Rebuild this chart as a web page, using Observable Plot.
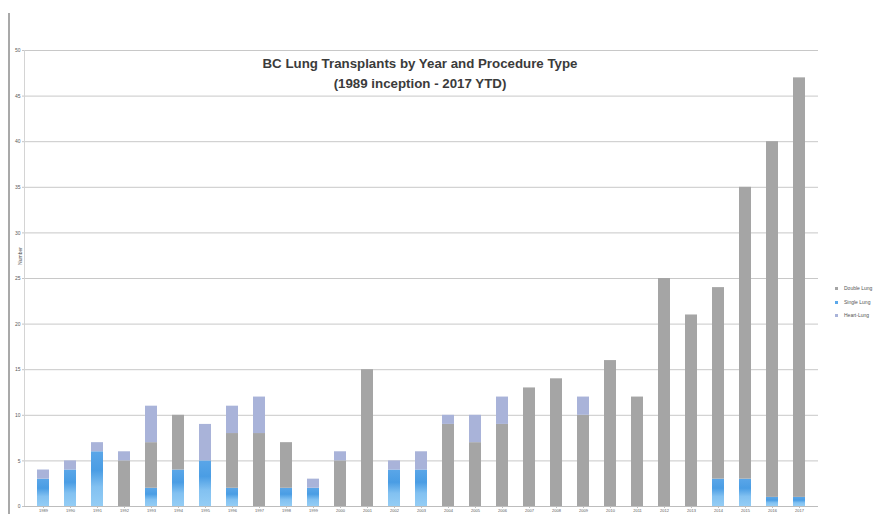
<!DOCTYPE html>
<html>
<head>
<meta charset="utf-8">
<script src="https://cdn.jsdelivr.net/npm/d3@7"></script>
<script src="https://cdn.jsdelivr.net/npm/@observablehq/plot@0.6"></script>
<style>
  body { margin: 0; background: #fff; font-family: "Liberation Sans", Arial, sans-serif; }
  #wrap { position: relative; width: 885px; height: 514px; overflow: hidden; background: #fff; }
  #wrap svg { position: absolute; left: 0; top: 0; }
  #edge { position: absolute; left: 8px; top: 13px; width: 2px; height: 501px; background: #a9a9a9; }
  #title { position: absolute; left: 0; top: 54px; width: 840px; text-align: center;
           font-weight: bold; font-size: 13.3px; line-height: 20px; color: #3b3b3b; }
  #ylabel { position: absolute; left: 20px; top: 256px; font-size: 5px; color: #555;
            transform: translate(-50%, -50%) rotate(-90deg); white-space: nowrap; }
  #legend { position: absolute; left: 835px; top: 283px; font-size: 5px; color: #555; }
  #legend div { height: 13.5px; line-height: 10px; white-space: nowrap; }
  #legend span { display: inline-block; width: 3px; height: 3px; margin-right: 6px; vertical-align: middle; }
</style>
</head>
<body>
<div id="wrap">
  <div id="edge"></div>
  <div id="chart"></div>
  <div id="title">BC Lung Transplants by Year and Procedure Type<br>(1989 inception - 2017 YTD)</div>
  <div id="ylabel">Number</div>
  <div id="legend"></div>
</div>
<script>
// Transplants per year, split by procedure type
const years = [1989, 1990, 1991, 1992, 1993, 1994, 1995, 1996, 1997, 1998,
               1999, 2000, 2001, 2002, 2003, 2004, 2005, 2006, 2007, 2008,
               2009, 2010, 2011, 2012, 2013, 2014, 2015, 2016, 2017];
const singleLung = [3, 4, 6, 0, 2, 4, 5, 2, 0, 2,
                    2, 0, 0, 4, 4, 0, 0, 0, 0, 0,
                    0, 0, 0, 0, 0, 3, 3, 1, 1];
const doubleLung = [0, 0, 0, 5, 5, 6, 0, 6, 8, 5,
                    0, 5, 15, 0, 0, 9, 7, 9, 13, 14,
                    10, 16, 12, 25, 21, 21, 32, 39, 46];
const heartLung  = [1, 1, 1, 1, 4, 0, 4, 3, 4, 0,
                    1, 1, 0, 1, 2, 1, 3, 3, 0, 0,
                    2, 0, 0, 0, 0, 0, 0, 0, 0];
const yTicks = [0, 5, 10, 15, 20, 25, 30, 35, 40, 45, 50];

// Stack order, bottom to top, and legend order
const stackOrder = ["Single Lung", "Double Lung", "Heart-Lung"];
const legendOrder = ["Double Lung", "Single Lung", "Heart-Lung"];
const palette = {"Single Lung": "#5ba8ea", "Double Lung": "#a5a5a5", "Heart-Lung": "#a9b3d9"};
// Bar fills: single-lung segments use a vertical gradient defined below
const barFill = {"Single Lung": "url(#single-lung-fill)", "Double Lung": palette["Double Lung"], "Heart-Lung": palette["Heart-Lung"]};

const seriesByType = {"Single Lung": singleLung, "Double Lung": doubleLung, "Heart-Lung": heartLung};
const rows = stackOrder.flatMap(type =>
  years.map((year, i) => ({year, type, value: seriesByType[type][i]})));

const chart = Plot.plot({
  width: 885,
  height: 514,
  marginLeft: 24,
  marginRight: 67,
  marginTop: 50,
  marginBottom: 8,
  style: {background: "transparent", fontFamily: "Liberation Sans, Arial, sans-serif", color: "#5a5a5a"},
  x: {type: "band", domain: years, paddingInner: 0.56, paddingOuter: 0.29},
  y: {domain: [0, 50]},
  color: {domain: stackOrder, range: stackOrder.map(t => barFill[t])},
  marks: [
    Plot.gridY(yTicks, {stroke: "#c8c8c8", strokeOpacity: 1}),
    Plot.frame({anchor: "left", stroke: "#d4d4d4"}),
    Plot.axisY(yTicks, {tickSize: 2, tickPadding: 2, fontSize: 5, label: null, stroke: "#c4c4c4"}),
    Plot.axisX({tickSize: 2, tickPadding: 1, fontSize: 4, label: null, tickFormat: d => String(d), stroke: "#bdbdbd"}),
    Plot.barY(rows, {x: "year", y: "value", fill: "type", order: stackOrder}),
    Plot.ruleY([0], {stroke: "#bdbdbd"})
  ]
});

// Gradient for the single-lung segments: pale at the base, deeper blue above
const defs = d3.select(chart).insert("defs", ":first-child");
const grad = defs.append("linearGradient")
  .attr("id", "single-lung-fill")
  .attr("x1", 0).attr("y1", 1).attr("x2", 0).attr("y2", 0);
grad.append("stop").attr("offset", "0%").attr("stop-color", "#94cdf5");
grad.append("stop").attr("offset", "35%").attr("stop-color", "#82c1f1");
grad.append("stop").attr("offset", "65%").attr("stop-color", "#4a9de4");
grad.append("stop").attr("offset", "100%").attr("stop-color", "#5aa6e8");

document.getElementById("chart").appendChild(chart);

const legend = document.getElementById("legend");
for (const t of legendOrder) {
  const item = document.createElement("div");
  const sw = document.createElement("span");
  sw.style.background = palette[t];
  item.appendChild(sw);
  item.appendChild(document.createTextNode(t));
  legend.appendChild(item);
}
</script>
</body>
</html>
